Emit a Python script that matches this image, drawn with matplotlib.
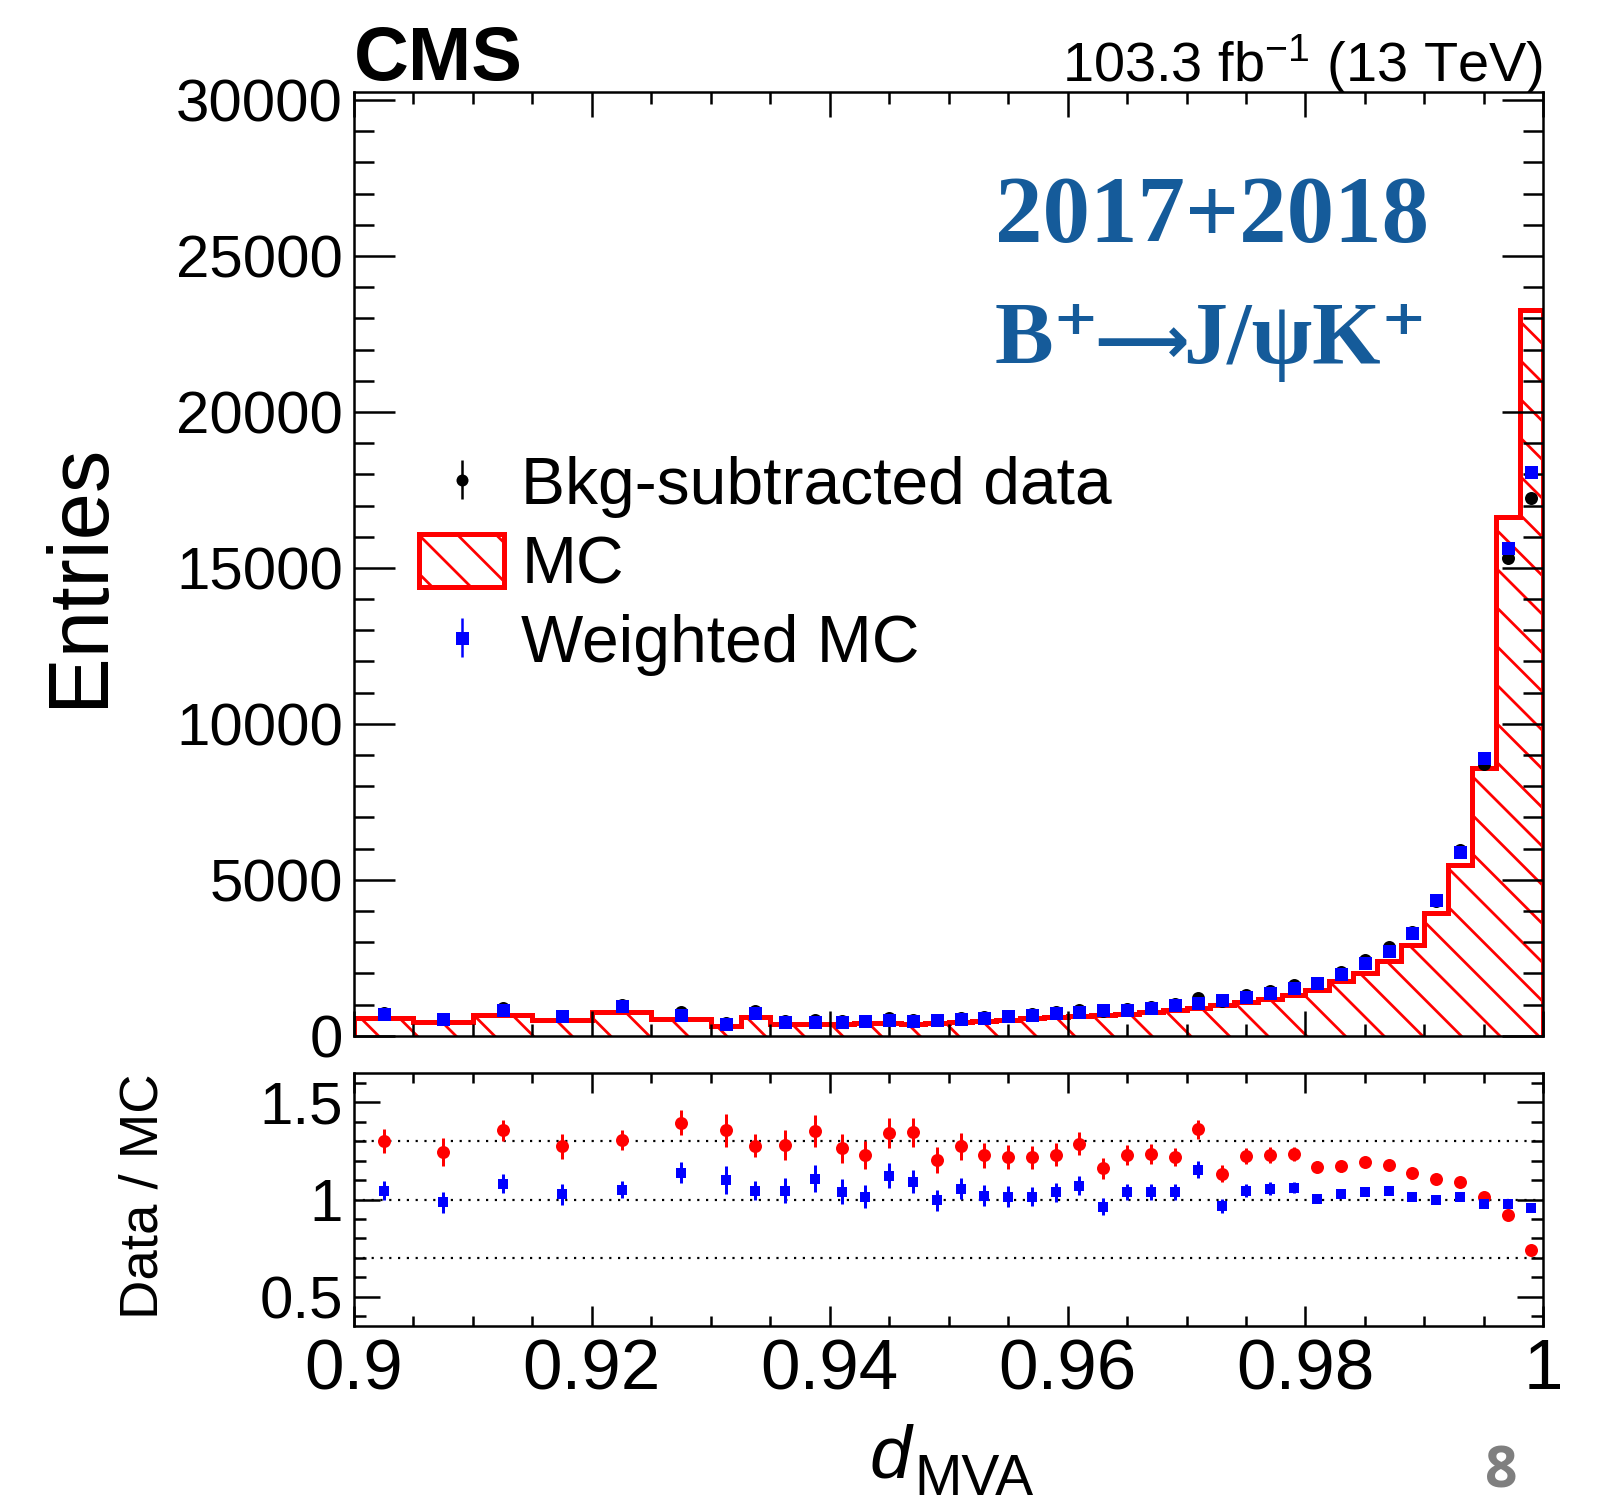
import numpy as np
import matplotlib
matplotlib.use('Agg')
import matplotlib.pyplot as plt
from matplotlib.ticker import MultipleLocator, FuncFormatter
from matplotlib.patches import Patch
from matplotlib.legend_handler import HandlerErrorbar

DPI = 116
W, H = 1603, 1504


def px(v):
    # pixels -> points at the figure dpi
    return v * 72.0 / DPI


# bin edges: 0.005 wide up to 0.93, 0.0025 up to 0.94, then 0.002
edges = [0.900, 0.905, 0.910, 0.915, 0.920, 0.925, 0.930,
         0.9325, 0.935, 0.9375, 0.940,
         0.942, 0.944, 0.946, 0.948, 0.950, 0.952, 0.954, 0.956, 0.958, 0.960,
         0.962, 0.964, 0.966, 0.968, 0.970, 0.972, 0.974, 0.976, 0.978, 0.980,
         0.982, 0.984, 0.986, 0.988, 0.990, 0.992, 0.994, 0.996, 0.998, 1.000]

mc = [556, 425, 652, 502, 759, 545, 310, 609, 363, 363,
      363, 395, 417, 374, 406, 438, 481, 513, 566, 609,
      641, 673, 705, 748, 834, 898, 983, 1069, 1165, 1314,
      1455, 1742, 2022, 2411, 2924, 3919, 5474, 8585, 16641, 23266]

data = [724, 529, 883, 639, 990, 760, 420, 777, 465, 491,
        459, 486, 560, 503, 488, 558, 590, 626, 688, 749,
        824, 781, 867, 923, 1016, 1222, 1114, 1306, 1431, 1621,
        1701, 2038, 2414, 2838, 3327, 4327, 5961, 8705, 15310, 17240]

weighted_mc = [692, 537, 816, 623, 942, 668, 381, 743, 445, 444,
               441, 479, 500, 461, 490, 528, 578, 617, 678, 723,
               770, 810, 834, 888, 978, 1060, 1150, 1249, 1355, 1528,
               1693, 1986, 2323, 2718, 3278, 4349, 5890, 8901, 15654, 18071]

ratio_mc = [1.302, 1.245, 1.355, 1.273, 1.305, 1.395, 1.355, 1.276, 1.280, 1.353,
            1.264, 1.230, 1.344, 1.346, 1.203, 1.273, 1.227, 1.220, 1.216, 1.230,
            1.286, 1.160, 1.230, 1.234, 1.218, 1.361, 1.133, 1.222, 1.228, 1.234,
            1.169, 1.170, 1.194, 1.177, 1.138, 1.104, 1.089, 1.014, 0.920, 0.741]
ratio_mc_err = [0.062, 0.073, 0.055, 0.066, 0.053, 0.066, 0.085, 0.058, 0.078, 0.083,
                0.075, 0.073, 0.077, 0.074, 0.066, 0.068, 0.064, 0.062, 0.060, 0.059,
                0.059, 0.055, 0.052, 0.051, 0.048, 0.050, 0.042, 0.041, 0.040, 0.037,
                0.030, 0.028, 0.025, 0.022, 0.020, 0.017, 0.014, 0.011, 0.008, 0.006]

ratio_wmc = [1.046, 0.985, 1.082, 1.026, 1.051, 1.138, 1.102, 1.046, 1.046, 1.107,
             1.041, 1.015, 1.121, 1.092, 0.995, 1.056, 1.020, 1.014, 1.015, 1.036,
             1.070, 0.964, 1.039, 1.039, 1.039, 1.153, 0.969, 1.046, 1.056, 1.061,
             1.005, 1.026, 1.039, 1.044, 1.015, 0.995, 1.012, 0.978, 0.978, 0.954]
ratio_wmc_err = [0.050, 0.056, 0.047, 0.055, 0.044, 0.054, 0.072, 0.048, 0.064, 0.068,
                 0.063, 0.060, 0.064, 0.061, 0.055, 0.055, 0.053, 0.053, 0.050, 0.049,
                 0.049, 0.045, 0.043, 0.043, 0.041, 0.043, 0.036, 0.032, 0.032, 0.030,
                 0.025, 0.020, 0.018, 0.015, 0.012, 0.010, 0.008, 0.006, 0.005, 0.004]

ratio_lines = [0.7, 1.0, 1.3]

plt.rcParams['font.family'] = ['Liberation Sans', 'DejaVu Sans']
plt.rcParams['mathtext.fontset'] = 'custom'
plt.rcParams['mathtext.rm'] = 'Liberation Sans'
plt.rcParams['mathtext.it'] = 'Liberation Sans:italic'
plt.rcParams['mathtext.bf'] = 'Liberation Sans:bold'
plt.rcParams['hatch.linewidth'] = 1.7
plt.rcParams['hatch.color'] = 'red'

edges = np.array(edges)
centers = 0.5 * (edges[:-1] + edges[1:])

fig = plt.figure(figsize=(W / DPI, H / DPI), dpi=DPI)
ax = fig.add_axes([354 / W, 1 - 1035.7 / H, 1189.3 / W, 943.7 / H])
rax = fig.add_axes([354 / W, 1 - 1326 / H, 1189.3 / W, 253 / H])

''' main panel '''
ax.stairs(mc, edges, fill=True, facecolor='none', edgecolor='red', hatch='\\', linewidth=0)
ax.stairs(mc, edges, color='red', linewidth=px(5))
ax.plot(centers, data, 'o', color='black', ms=px(13), mew=0)
ax.plot(centers, weighted_mc, 's', color='blue', ms=px(13), mew=0)

ax.set_xlim(0.9, 1.0)
ax.set_ylim(0, 30260)

h_data = ax.errorbar([np.nan], [np.nan], yerr=[1], fmt='o', color='black', ms=px(12),
                     mew=0, elinewidth=px(2.5))
h_mc = Patch(facecolor='none', edgecolor='red', hatch='\\', linewidth=px(5))
h_wmc = ax.errorbar([np.nan], [np.nan], yerr=[1], fmt='s', color='blue', ms=px(13),
                    mew=0, elinewidth=px(2.5))
ax.legend([h_data, h_mc, h_wmc], ['Bkg-subtracted data', 'MC', 'Weighted MC'],
          loc='upper left', bbox_to_anchor=(65 / 1189.3, (1035.7 - 455) / 943.7),
          frameon=False, fontsize=px(66), handlelength=1.29, handleheight=0.85,
          handletextpad=0.26, labelspacing=0.24, borderpad=0, borderaxespad=0,
          handler_map={type(h_data): HandlerErrorbar(xerr_size=0, yerr_size=0.3)})

''' ratio panel '''
for y in ratio_lines:
    rax.axhline(y, color='black', linewidth=px(2.2), linestyle=(0, (1, 3)))
rax.errorbar(centers, ratio_mc, yerr=ratio_mc_err, fmt='o', color='red', ms=px(13),
             mew=0, elinewidth=px(3), capsize=0)
rax.errorbar(centers, ratio_wmc, yerr=ratio_wmc_err, fmt='s', color='blue', ms=px(10),
             mew=0, elinewidth=px(3), capsize=0)
rax.set_xlim(0.9, 1.0)
rax.set_ylim(0.35, 1.65)

fmt = FuncFormatter(lambda v, p: '%g' % v)
for a in (ax, rax):
    for s in a.spines.values():
        s.set_linewidth(px(2.5))
    a.xaxis.set_major_locator(MultipleLocator(0.02))
    a.xaxis.set_minor_locator(MultipleLocator(0.005))
    a.xaxis.set_major_formatter(fmt)
    a.yaxis.set_major_formatter(fmt)
    a.tick_params(which='both', direction='in', top=True, right=True, width=px(2.5))

ax.yaxis.set_major_locator(MultipleLocator(5000))
ax.yaxis.set_minor_locator(MultipleLocator(1000))
ax.tick_params(axis='x', which='major', length=px(25), labelbottom=False)
ax.tick_params(axis='x', which='minor', length=px(12))
ax.tick_params(axis='y', which='major', length=px(41), labelsize=px(60), pad=px(11))
ax.tick_params(axis='y', which='minor', length=px(20))

rax.yaxis.set_major_locator(MultipleLocator(0.5))
rax.yaxis.set_minor_locator(MultipleLocator(0.1))
rax.tick_params(axis='x', which='major', length=px(20), labelsize=px(71), pad=px(12))
rax.tick_params(axis='x', which='minor', length=px(10))
rax.tick_params(axis='y', which='major', length=px(26), labelsize=px(60), pad=px(11))
rax.tick_params(axis='y', which='minor', length=px(12))

''' labels '''
serif = ['Liberation Serif', 'DejaVu Serif']
blue_txt = '#155b9a'
fig.text(354 / W, 1 - 80 / H, 'CMS', fontsize=px(76), weight='bold', ha='left', va='baseline')
fig.text(1543.3 / W, 1 - 82 / H, '103.3 fb$^{-1}$ (13 TeV)', fontsize=px(56),
         ha='right', va='baseline')
fig.text(995 / W, 1 - 242 / H, '2017+2018', fontsize=px(95), weight='bold',
         family=serif, color=blue_txt, ha='left', va='baseline')
fig.text(995 / W, 1 - 363 / H, 'B\u207a', fontsize=px(88), weight='bold',
         family=serif, color=blue_txt, ha='left', va='baseline')
fig.text(1094 / W, 1 - 363 / H, '\u27f6', fontsize=px(66), weight='bold',
         family='DejaVu Sans', color=blue_txt, ha='left', va='baseline')
fig.text(1183 / W, 1 - 363 / H, 'J/\u03c8K\u207a', fontsize=px(88), weight='bold',
         family=serif, color=blue_txt, ha='left', va='baseline')
fig.text(80 / W, 1 - 575 / H, 'Entries', fontsize=px(85), rotation=90, ha='center', va='center')
fig.text(144 / W, 1 - 1196 / H, 'Data / MC', fontsize=px(54.5), rotation=90,
         ha='center', va='center')
fig.text(911 / W, 1 - 1477 / H, 'd', fontsize=px(75), style='italic', ha='right', va='baseline')
fig.text(914 / W, 1 - 1495 / H, 'MVA', fontsize=px(57), ha='left', va='baseline')
fig.text(1501 / W, 1 - 1473 / H, '8', fontsize=px(57), weight='bold', family='Open Sans',
         color='#7f7f7f', ha='center', va='center')

fig.savefig('out.png', dpi=DPI)
